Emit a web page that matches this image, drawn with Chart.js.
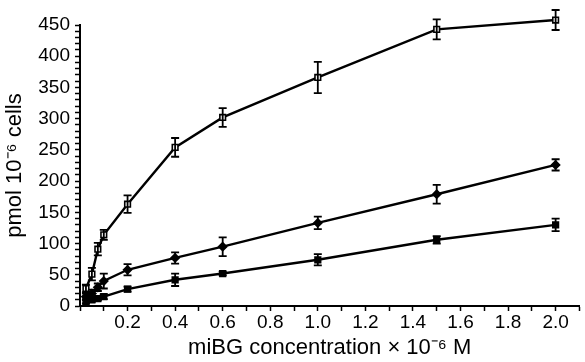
<!DOCTYPE html>
<html>
<head>
<meta charset="utf-8">
<script src="https://cdn.jsdelivr.net/npm/chart.js@4/dist/chart.umd.min.js"></script>
<style>
  html, body { margin: 0; padding: 0; background: #fff; }
  canvas { display: block; }
</style>
</head>
<body>
<canvas id="chart" width="585" height="362"></canvas>
<script>
// miBG concentration (x 10^-6 M)
const conc = [0.025, 0.05, 0.075, 0.1, 0.2, 0.4, 0.6, 1.0, 1.5, 2.0];

// uptake, pmol 10^-6 cells
const openSquares = [28, 51, 91, 114, 163, 254, 302, 366, 443, 458];
const openSquaresErr = [6, 10, 10, 8, 14, 15, 15, 25, 16, 16];

const diamonds = [15, 20, 30, 40, 58, 77, 95, 133, 179, 226];
const diamondsErr = [5, 6, 6, 12, 9, 9, 15, 10, 15, 9];

const filledSquares = [7, 10, 12, 15, 27, 42, 52, 74, 106, 130];
const filledSquaresErr = [3, 3, 3, 4, 4, 10, 3, 9, 6, 10];

const font = "'Liberation Sans', Arial, Helvetica, sans-serif";

function points(ys) {
  return conc.map((x, i) => ({ x, y: ys[i] }));
}

// error bars drawn with the chart's own scales
const errorBars = {
  id: "errorBars",
  afterDatasetsDraw(chart) {
    const { ctx, scales } = chart;
    ctx.save();
    ctx.strokeStyle = "#000";
    ctx.lineWidth = 1.8;
    chart.data.datasets.forEach((ds) => {
      if (!ds.errors) return;
      ds.data.forEach((p, i) => {
        const e = ds.errors[i];
        const px = scales.x.getPixelForValue(p.x);
        const top = scales.y.getPixelForValue(p.y + e);
        const bot = scales.y.getPixelForValue(p.y - e);
        ctx.beginPath();
        ctx.moveTo(px, top);
        ctx.lineTo(px, bot);
        ctx.moveTo(px - 4, top);
        ctx.lineTo(px + 4, top);
        ctx.moveTo(px - 4, bot);
        ctx.lineTo(px + 4, bot);
        ctx.stroke();
      });
    });
    ctx.restore();
  },
};

function series(data, errors, style, fill) {
  return {
    data: points(data),
    errors,
    borderColor: "#000",
    borderWidth: 2.4,
    pointStyle: style,
    pointRadius: 4,
    pointBorderWidth: 1.6,
    pointBorderColor: "#000",
    pointBackgroundColor: fill,
    tension: 0,
    clip: false,
  };
}

new Chart(document.getElementById("chart"), {
  type: "line",
  data: {
    datasets: [
      series(openSquares, openSquaresErr, "rect", "#fff"),
      series(diamonds, diamondsErr, "rectRot", "#000"),
      series(filledSquares, filledSquaresErr, "rect", "#000"),
    ],
  },
  options: {
    responsive: false,
    animation: false,
    devicePixelRatio: 1,
    layout: { padding: { top: 25, right: 0, bottom: 0, left: 0 } },
    plugins: { legend: { display: false }, tooltip: { enabled: false } },
    scales: {
      x: {
        type: "linear",
        min: 0,
        max: 2.1,
        afterFit: (s) => { s.height = 56; },
        border: { color: "#000", width: 2 },
        grid: { drawOnChartArea: false, drawTicks: true, tickLength: 5, color: "#000", tickWidth: 1.5 },
        ticks: {
          stepSize: 0.1,
          autoSkip: false,
          maxRotation: 0,
          padding: 0,
          color: "#000",
          font: { family: font, size: 19 },
          callback: (v) => {
            const t = Math.round(v * 10);
            return t > 0 && t % 2 === 0 && t <= 20 ? (t / 10).toFixed(1) : "";
          },
        },
        title: {
          display: true,
          text: "miBG concentration \u00d7 10\u207b\u2076 M",
          color: "#000",
          font: { family: font, size: 22 },
          padding: { top: 0, bottom: 1 },
        },
      },
      y: {
        min: 0,
        max: 450,
        afterFit: (s) => { s.width = 80; },
        border: { color: "#000", width: 2 },
        grid: { drawOnChartArea: false, drawTicks: true, tickLength: 5, color: "#000", tickWidth: 1.5 },
        ticks: {
          stepSize: 10,
          autoSkip: false,
          padding: 5,
          color: "#000",
          font: { family: font, size: 19 },
          callback: (v) => (v % 50 === 0 ? v : ""),
        },
        title: {
          display: true,
          text: "pmol 10\u207b\u2076 cells",
          color: "#000",
          font: { family: font, size: 22 },
          padding: { top: 2, bottom: 0 },
        },
      },
    },
  },
  plugins: [errorBars],
});
</script>
</body>
</html>
